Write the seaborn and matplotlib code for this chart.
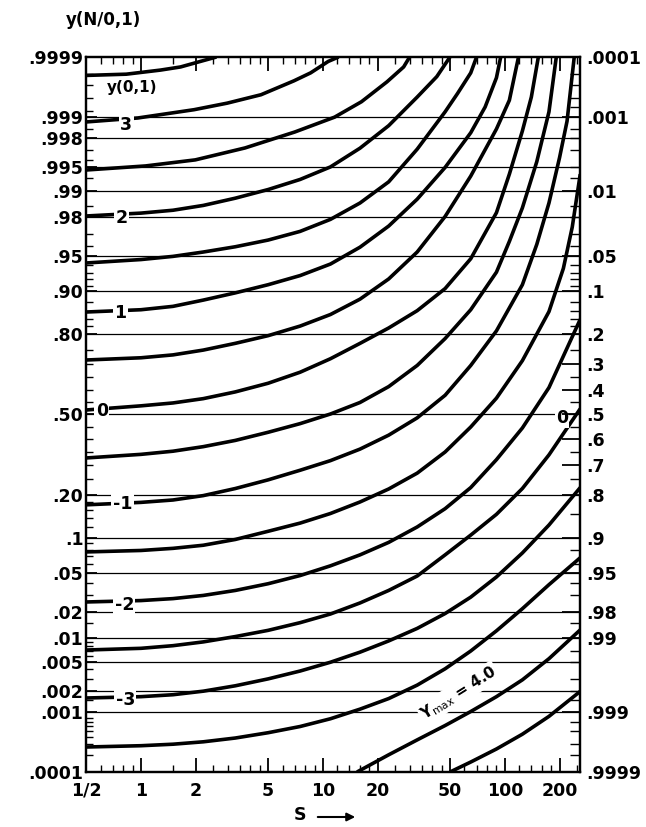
import math
import numpy as np
import pandas as pd
import matplotlib
matplotlib.use("Agg")
import matplotlib.pyplot as plt
import matplotlib.patches as mpatches
import seaborn as sns
from matplotlib.ticker import NullFormatter

# ---------------- values ----------------
# thick curves (labelled by y(0,1)); S values and left-axis probability
s_p35 = [0.5, 0.83, 1.28, 1.65, 2.12, 2.6]
p_p35 = [0.99979, 0.9998, 0.99983, 0.99985, 0.99988, 0.9999]
s_p30 = [0.5, 0.96, 1.96, 2.98, 4.57, 6.92, 8.56, 10.7, 12.2]
p_p30 = [0.99883, 0.99898, 0.99924, 0.9994, 0.99956, 0.99974, 0.99981, 0.99988, 0.9999]
s_p25 = [0.5, 1.06, 1.99, 3.73, 7.0, 11.6, 16.3, 22.5, 27.8, 30.0]
p_p25 = [0.99451, 0.99514, 0.99596, 0.99722, 0.99835, 0.99901, 0.99943, 0.99973, 0.99985, 0.9999]
s_p20 = [0.5, 1, 1.5, 2.2, 3.3, 5, 7.5, 11, 16, 23, 33, 42.3, 50]
p_p20 = [0.98054, 0.98191, 0.9832, 0.98518, 0.98778, 0.99036, 0.99276, 0.99499,
         0.9972, 0.99867, 0.99952, 0.99978, 0.9999]
s_p15 = [0.5, 1, 1.5, 2.2, 3.3, 5, 7.5, 11, 16, 23, 33, 47, 55, 65, 70]
p_p15 = [0.9425, 0.9465, 0.95, 0.9545, 0.9595, 0.9652, 0.9716, 0.9788, 0.9861,
         0.99224, 0.99711, 0.99918, 0.99958, 0.99981, 0.9999]
s_p10 = [0.5, 1, 1.5, 2.2, 3.3, 5, 7.5, 11, 16, 23, 33, 47, 65, 78, 90, 95]
p_p10 = [0.8568, 0.8621, 0.8697, 0.883, 0.8971, 0.9115, 0.9258, 0.9412, 0.9591,
         0.975, 0.98745, 0.99492, 0.99831, 0.99931, 0.99977, 0.9999]
s_p05 = [0.5, 1, 1.5, 2.2, 3.3, 5, 7.5, 11, 16, 23, 33, 47, 65, 90, 106, 119]
p_p05 = [0.7146, 0.7224, 0.7324, 0.7486, 0.7704, 0.7939, 0.8212, 0.8508, 0.8849,
         0.9207, 0.9545, 0.9803, 0.99343, 0.99851, 0.99946, 0.9999]
s_000 = [0.5, 1, 1.5, 2.2, 3.3, 5, 7.5, 11, 16, 23, 33, 47, 65, 90, 106, 125, 140, 153]
p_000 = [0.5187, 0.5359, 0.5478, 0.5655, 0.5929, 0.6274, 0.67, 0.719, 0.7703,
         0.8159, 0.8599, 0.9049, 0.9474, 0.9821, 0.99379, 0.99841, 0.99952, 0.9999]
s_m05 = [0.5, 1, 1.5, 2.2, 3.3, 5, 7.5, 11, 16, 23, 33, 47, 65, 90, 106, 125, 150, 175, 192]
p_m05 = [0.3256, 0.3392, 0.3513, 0.369, 0.3937, 0.4266, 0.4622, 0.502, 0.5497,
         0.6141, 0.695, 0.7852, 0.8621, 0.9306, 0.9641, 0.9842, 0.99573, 0.99918, 0.9999]
s_m10 = [0.5, 1, 1.5, 2.2, 3.3, 5, 7.5, 11, 16, 23, 33, 47, 65, 90, 125, 150, 175, 200, 220, 241]
p_m10 = [0.1737, 0.1803, 0.1869, 0.1994, 0.2206, 0.2483, 0.281, 0.3156, 0.3594,
         0.4149, 0.486, 0.5793, 0.695, 0.8078, 0.9115, 0.9616, 0.9861, 0.99621,
         0.99886, 0.9999]
s_m15 = [0.5, 1, 1.5, 2.2, 3.3, 5, 7.5, 11, 16, 23, 33, 47, 65, 90, 125, 175, 210, 235, 260]
p_m15 = [0.0764, 0.0786, 0.0819, 0.0869, 0.0968, 0.1122, 0.1293, 0.1515, 0.1814,
         0.2192, 0.2709, 0.3483, 0.4483, 0.5675, 0.7123, 0.8577, 0.9357, 0.9744, 0.9938]
s_m20 = [0.5, 1, 1.5, 2.2, 3.3, 5, 7.5, 11, 16, 23, 33, 47, 65, 90, 125, 175, 260]
p_m20 = [0.02557, 0.02646, 0.02773, 0.0299, 0.0336, 0.03917, 0.04694, 0.0577,
         0.0721, 0.0917, 0.121, 0.1636, 0.2236, 0.3192, 0.4443, 0.6102, 0.8389]
s_m25 = [0.5, 1, 1.5, 2.2, 3.3, 5, 7.5, 11, 16, 23, 33, 47, 65, 90, 125, 175, 260]
p_m25 = [0.00714, 0.0075, 0.00809, 0.009, 0.01044, 0.01237, 0.01518, 0.01897,
         0.02497, 0.0336, 0.04645, 0.0721, 0.1048, 0.1495, 0.2207, 0.3372, 0.5239]
s_m30 = [0.5, 1, 1.5, 2.2, 3.3, 5, 7.5, 11, 16, 23, 33, 47, 65, 90, 125, 175, 260]
p_m30 = [0.001593, 0.001666, 0.001778, 0.002, 0.002385, 0.002977, 0.00381,
         0.00498, 0.00671, 0.00925, 0.01303, 0.0192, 0.02872, 0.0455, 0.0749,
         0.1251, 0.2236]
s_m35 = [0.5, 1, 1.5, 2.2, 3.3, 5, 7.5, 11, 16, 23, 33, 47, 65, 90, 125, 175, 260]
p_m35 = [0.000271, 0.000285, 0.000302, 0.000331, 0.000382, 0.000466, 0.000586,
         0.000775, 0.001088, 0.001562, 0.002437, 0.00408, 0.00694, 0.01221,
         0.02168, 0.03834, 0.0681]
s_m40 = [15.4, 23, 33, 47, 65, 90, 125, 175, 260]
p_m40 = [0.0001, 0.0002, 0.000356, 0.000607, 0.001001, 0.001666, 0.002887,
         0.005538, 0.01253]
s_m45 = [50, 65, 90, 125, 175, 260]
p_m45 = [0.0001, 0.00015, 0.000251, 0.000441, 0.000844, 0.001987]

curve_names = ["3.5", "3", "2.5", "2", "1.5", "1", "0.5", "0", "-0.5", "-1",
               "-1.5", "-2", "-2.5", "-3", "-3.5", "-4", "-4.5"]
curve_s = [s_p35, s_p30, s_p25, s_p20, s_p15, s_p10, s_p05, s_000, s_m05,
           s_m10, s_m15, s_m20, s_m25, s_m30, s_m35, s_m40, s_m45]
curve_p = [p_p35, p_p30, p_p25, p_p20, p_p15, p_p10, p_p05, p_000, p_m05,
           p_m10, p_m15, p_m20, p_m25, p_m30, p_m35, p_m40, p_m45]

# thin horizontal guide lines (left-axis probabilities)
thin_levels = [0.999, 0.998, 0.995, 0.99, 0.98, 0.95, 0.90, 0.80, 0.50,
               0.20, 0.10, 0.05, 0.02, 0.01, 0.005, 0.002, 0.001]
thin_s = [0.5, 260.0]

# curve labels near the left axis
lab_text = ["3", "2", "1", "0", "-1", "-2", "-3"]
lab_s = [0.83, 0.78, 0.77, 0.61, 0.79, 0.81, 0.82]
lab_p = [0.99872, 0.9793, 0.8534, 0.5155, 0.1746, 0.0235, 0.00147]

# axes ticks
left_ticks = [0.0001, 0.001, 0.002, 0.005, 0.01, 0.02, 0.05, 0.1, 0.20, 0.50,
              0.80, 0.90, 0.95, 0.98, 0.99, 0.995, 0.998, 0.999, 0.9999]
left_labels = [".0001", ".001", ".002", ".005", ".01", ".02", ".05", ".1", ".20",
               ".50", ".80", ".90", ".95", ".98", ".99", ".995", ".998", ".999", ".9999"]
right_ticks = [0.0001, 0.001, 0.01, 0.05, 0.1, 0.2, 0.3, 0.4, 0.5, 0.6, 0.7,
               0.8, 0.9, 0.95, 0.98, 0.99, 0.999, 0.9999]
right_labels = [".0001", ".001", ".01", ".05", ".1", ".2", ".3", ".4", ".5", ".6",
                ".7", ".8", ".9", ".95", ".98", ".99", ".999", ".9999"]
x_ticks = [0.5, 1, 2, 5, 10, 20, 50, 100, 200]
x_labels = ["1/2", "1", "2", "5", "10", "20", "50", "100", "200"]

left_minor = [0.0002, 0.0003, 0.0004, 0.0005, 0.0006, 0.0007, 0.0008, 0.0015,
              0.003, 0.004, 0.006, 0.007, 0.008, 0.009, 0.015, 0.03, 0.04, 0.06,
              0.07, 0.08, 0.09, 0.12, 0.14, 0.16, 0.18, 0.25, 0.30, 0.35, 0.40,
              0.45, 0.55, 0.60, 0.65, 0.70, 0.75, 0.82, 0.84, 0.86, 0.88, 0.91,
              0.92, 0.93, 0.94, 0.96, 0.97, 0.985, 0.993, 0.996, 0.997, 0.9985,
              0.9992, 0.9995, 0.9997, 0.9998]
right_minor = [0.0002, 0.0003, 0.0005, 0.0007, 0.0015, 0.002, 0.003, 0.005,
               0.007, 0.015, 0.02, 0.03, 0.04, 0.06, 0.07, 0.08, 0.09, 0.12,
               0.14, 0.16, 0.18, 0.25, 0.35, 0.45, 0.55, 0.65, 0.75, 0.85,
               0.92, 0.94, 0.96, 0.97, 0.985, 0.993, 0.995, 0.997, 0.998,
               0.9985, 0.9993, 0.9995, 0.9997, 0.9998]
x_minor = [0.6, 0.7, 0.8, 0.9, 1.5, 2.5, 3, 3.5, 4, 4.5, 6, 7, 8, 9, 12, 14,
           16, 18, 25, 30, 35, 40, 45, 60, 70, 80, 90, 120, 140, 160, 180, 250]


# ---------------- normal-probability scale ----------------
def _ppf(p):
    p = np.asarray(p, dtype=float)
    shape = p.shape
    p = np.clip(np.atleast_1d(p).ravel(), 1e-12, 1 - 1e-12)
    a = [-3.969683028665376e+01, 2.209460984245205e+02, -2.759285104469687e+02,
         1.383577518672690e+02, -3.066479806614716e+01, 2.506628277459239e+00]
    b = [-5.447609879822406e+01, 1.615858368580409e+02, -1.556989798598866e+02,
         6.680131188771972e+01, -1.328068155288572e+01]
    c = [-7.784894002430293e-03, -3.223964580411365e-01, -2.400758277161838e+00,
         -2.549732539343734e+00, 4.374664141464968e+00, 2.938163982698783e+00]
    d = [7.784695709041462e-03, 3.224671290700398e-01, 2.445134137142996e+00,
         3.754408661907416e+00]
    plow = 0.02425
    x = np.empty_like(p)
    lo = p < plow
    hi = p > 1 - plow
    mid = ~(lo | hi)
    q = np.sqrt(-2 * np.log(p[lo]))
    x[lo] = (((((c[0]*q + c[1])*q + c[2])*q + c[3])*q + c[4])*q + c[5]) / \
            ((((d[0]*q + d[1])*q + d[2])*q + d[3])*q + 1)
    q = np.sqrt(-2 * np.log(1 - p[hi]))
    x[hi] = -(((((c[0]*q + c[1])*q + c[2])*q + c[3])*q + c[4])*q + c[5]) / \
             ((((d[0]*q + d[1])*q + d[2])*q + d[3])*q + 1)
    q = p[mid] - 0.5
    r = q * q
    x[mid] = (((((a[0]*r + a[1])*r + a[2])*r + a[3])*r + a[4])*r + a[5])*q / \
             (((((b[0]*r + b[1])*r + b[2])*r + b[3])*r + b[4])*r + 1)
    return x.reshape(shape)


_erf = np.vectorize(math.erf, otypes=[float])


def _cdf(z):
    z = np.asarray(z, dtype=float)
    return 0.5 * (1.0 + _erf(z / math.sqrt(2.0)))


# ---------------- data frames ----------------
thick_df = pd.concat(
    [pd.DataFrame({"curve": name, "S": s, "P": p})
     for name, s, p in zip(curve_names, curve_s, curve_p)],
    ignore_index=True)
thin_df = pd.concat(
    [pd.DataFrame({"curve": str(lv), "S": thin_s, "P": [lv, lv]})
     for lv in thin_levels],
    ignore_index=True)

# ---------------- figure ----------------
sns.set_style("ticks")
plt.rcParams["font.family"] = ["DejaVu Sans"]
plt.rcParams["axes.linewidth"] = 1.6
for key in ["text.color", "axes.labelcolor", "xtick.color", "ytick.color",
            "axes.edgecolor"]:
    plt.rcParams[key] = "black"

fig = plt.figure(figsize=(6.46, 8.27), dpi=100)
ax = fig.add_axes([0.1335, 0.0665, 0.7647, 0.8646])
ax.set_xscale("log")
ax.set_yscale("function", functions=(_ppf, _cdf))

sns.lineplot(data=thin_df, x="S", y="P", units="curve", estimator=None,
             sort=False, color="black", linewidth=0.9, ax=ax, legend=False,
             zorder=2)
sns.lineplot(data=thick_df, x="S", y="P", units="curve", estimator=None,
             sort=False, color="black", linewidth=2.6, ax=ax, legend=False,
             zorder=3)
for ln in ax.lines:
    ln.set_solid_joinstyle("round")
    ln.set_solid_capstyle("butt")

ax.set_xlim(0.5, 260)
ax.set_ylim(0.0001, 0.9999)
ax.set_xlabel("")
ax.set_ylabel("")

tick_font = dict(fontsize=12.5, fontweight="bold", color="black")
ax.set_xticks(x_ticks)
ax.set_xticklabels(x_labels, **tick_font)
ax.set_xticks(x_minor, minor=True)
ax.xaxis.set_minor_formatter(NullFormatter())
ax.set_yticks(left_ticks)
ax.set_yticklabels(left_labels, **tick_font)
ax.set_yticks(left_minor, minor=True)
ax.yaxis.set_minor_formatter(NullFormatter())

ax.tick_params(axis="x", which="both", direction="in", top=True, bottom=True,
               colors="black")
ax.tick_params(axis="x", which="major", length=10, width=1.3, pad=7)
ax.tick_params(axis="x", which="minor", length=5, width=1.0)
ax.tick_params(axis="y", which="both", direction="in", left=True, right=False,
               colors="black")
ax.tick_params(axis="y", which="major", length=8, width=1.3, pad=2)
ax.tick_params(axis="y", which="minor", length=5, width=1.0)
for sp in ax.spines.values():
    sp.set_color("black")

ax2 = ax.twinx()
ax2.set_yscale("function", functions=(_ppf, _cdf))
ax2.set_ylim(0.9999, 0.0001)
ax2.set_yticks(right_ticks)
ax2.set_yticklabels(right_labels, **tick_font)
ax2.set_yticks(right_minor, minor=True)
ax2.yaxis.set_minor_formatter(NullFormatter())
ax2.tick_params(axis="y", which="both", direction="in", right=True, left=False,
                colors="black")
ax2.tick_params(axis="y", which="major", length=13, width=1.3, pad=4)
ax2.tick_params(axis="y", which="minor", length=7, width=1.0)
for sp in ax2.spines.values():
    sp.set_linewidth(1.6)
    sp.set_color("black")

# curve labels
for t, s, p in zip(lab_text, lab_s, lab_p):
    ax.text(s, p, t, ha="center", va="center", fontsize=12.5,
            fontweight="bold", color="black", zorder=5,
            bbox=dict(boxstyle="square,pad=0.08", fc="white", ec="none"))

ax.text(0.89, 0.99966, "y(0,1)", ha="center", va="center", fontsize=11,
        fontweight="bold", color="black", zorder=5)
ax.text(55.7, 0.00188, r"Y$_{\rm max}$ = 4.0", ha="center", va="center",
        fontsize=11, fontweight="bold", color="black", rotation=32, zorder=5,
        bbox=dict(boxstyle="square,pad=0.1", fc="white", ec="none"))
ax.text(207, 0.485, "0", ha="center", va="center", fontsize=12.5,
        fontweight="bold", color="black", zorder=5,
        bbox=dict(boxstyle="square,pad=0.05", fc="white", ec="none"))

fig.text(103 / 646, 1 - 20 / 827, "y(N/0,1)", ha="center", va="center",
         fontsize=12, fontweight="bold", color="black")
fig.text(300 / 646, 1 - 815 / 827, "S", ha="center", va="center",
         fontsize=12.5, fontweight="bold", color="black")
fig.patches.append(mpatches.FancyArrowPatch(
    (315 / 646, 1 - 817 / 827), (358 / 646, 1 - 817 / 827),
    transform=fig.transFigure, arrowstyle="-|>", mutation_scale=12,
    color="black", lw=1.5))

fig.savefig("out.png", dpi=100, facecolor="white")
